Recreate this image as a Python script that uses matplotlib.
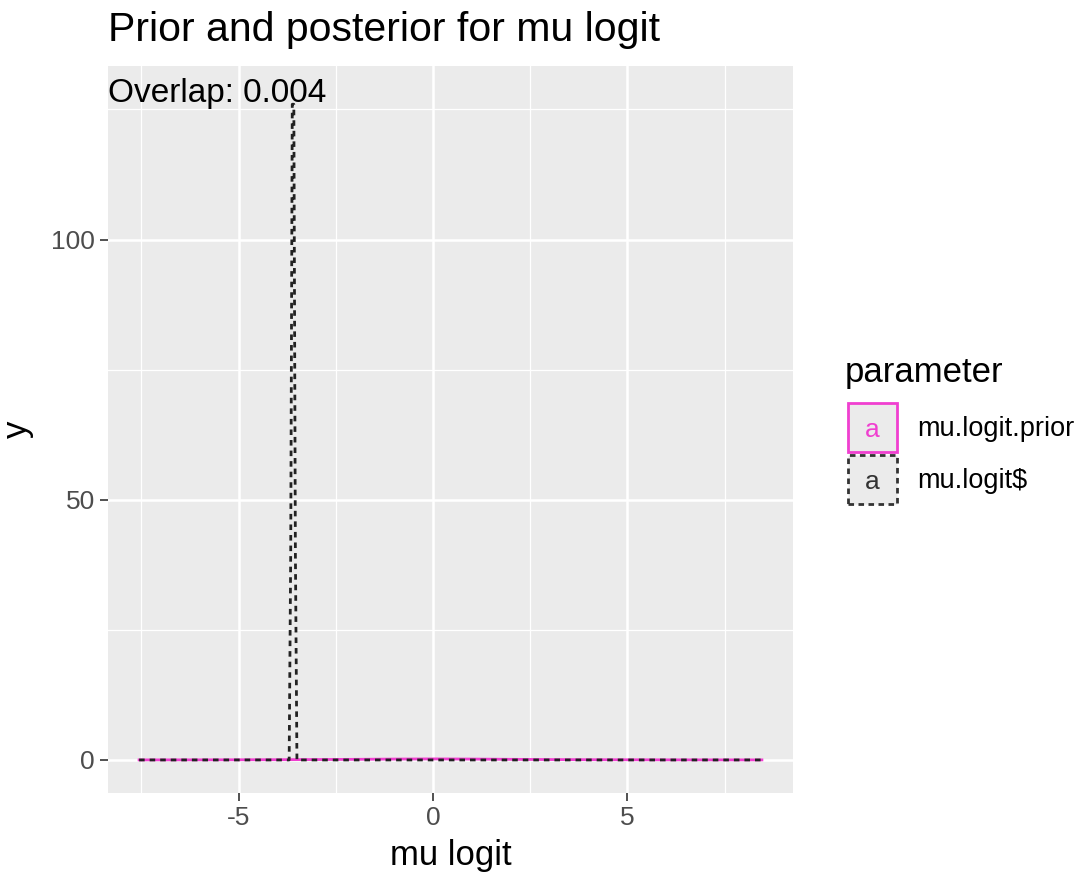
import matplotlib
matplotlib.use("Agg")
import matplotlib.pyplot as plt
from matplotlib.patches import Rectangle

plt.rcParams['font.family'] = ['Liberation Sans', 'DejaVu Sans']
plt.rcParams['axes.unicode_minus'] = False

### data
prior_x = [-7.56, -6.0, -4.0, -3.0, -2.0, -1.0, 0.0, 1.0, 2.0, 3.0, 4.0, 6.0, 8.46]
prior_y = [0.01, 0.02, 0.05, 0.08, 0.12, 0.17, 0.20, 0.17, 0.12, 0.08, 0.05, 0.02, 0.01]
post_x = [-7.56, -3.70, -3.66, -3.62, -3.58, -3.54, -3.50, 8.46]
post_y = [0.0, 0.0, 40.0, 126.0, 126.0, 40.0, 0.0, 0.0]
labels = ["mu.logit.prior", "mu.logit$"]
overlap = 0.004

pink = "#F03FD0"
panel = "#EBEBEB"

fig = plt.figure(figsize=(10.78, 8.76), dpi=100)
ax = fig.add_axes([108/1078, 1-793/876, 685/1078, 727/876])
ax.set_facecolor(panel)

ax.plot(prior_x, prior_y, color=pink, lw=2.0, zorder=3)
ax.plot(post_x, post_y, color="#222222", lw=2.0, ls=(0, (2.0, 1.8)), zorder=4)

ax.set_xlim(-8.36, 9.26)
ax.set_ylim(-6.35, 133.35)
ax.set_xticks([-5, 0, 5])
ax.set_xticks([-7.5, -2.5, 2.5, 7.5], minor=True)
ax.set_yticks([0, 50, 100])
ax.set_yticks([25, 75, 125], minor=True)
ax.grid(which="major", color="white", lw=1.8)
ax.grid(which="minor", color="white", lw=0.9)
ax.set_axisbelow(True)
for s in ax.spines.values():
    s.set_visible(False)
ax.tick_params(which="major", length=5.5, width=1.2, color="#333333",
               labelsize=19, labelcolor="#4D4D4D", pad=4)
ax.tick_params(which="minor", length=0)
ax.set_xlabel("mu logit", fontsize=25, labelpad=6)
ax.set_ylabel("y", fontsize=25, labelpad=12)
ax.text(-8.36, 131.0, "Overlap: %.3f" % overlap, fontsize=24, ha="left", va="top", zorder=5)

fig.text(108/1078, 1-30/876, "Prior and posterior for mu logit", fontsize=29.5, ha="left", va="center")

### legend
fig.text(845/1078, 1-373/876, "parameter", fontsize=25, ha="left", va="center")
keys = [(pink, "-"), ("#333333", (0, (2, 1.6)))]
for k, (lab, (c, ls)) in enumerate(zip(labels, keys)):
    top = 403 + k*52
    r = Rectangle((848/1078, 1-(top+49)/876), 49/1078, 49/876, transform=fig.transFigure,
                  facecolor=panel, edgecolor=c, lw=2.0, ls=ls)
    fig.add_artist(r)
    fig.text(872/1078, 1-(top+27)/876, "a", fontsize=19, color=c if k == 0 else "#333333",
             ha="center", va="center")
    fig.text(917/1078, 1-(top+26)/876, lab, fontsize=19.5, ha="left", va="center")

fig.savefig("out.png", dpi=100)
